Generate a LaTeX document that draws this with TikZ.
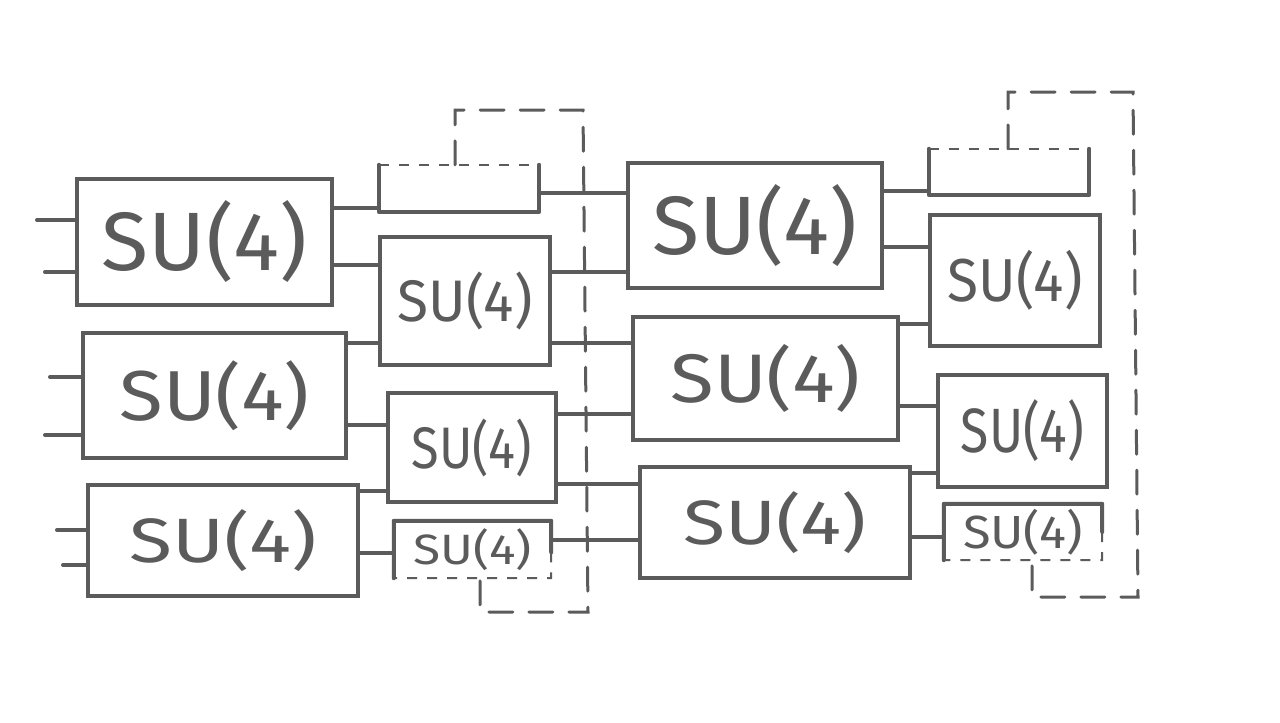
\documentclass[tikz,border=0pt]{standalone}
\usepackage{fontspec}
\usepackage{graphicx}
\usetikzlibrary{calc}
\newfontfamily\hand{Fira Sans}
\definecolor{ink}{HTML}{5B5B5B}
\newcommand\sutext[2]{\resizebox*{#1pt}{#2pt}{\hand SU(4)}}
\newcommand\wire[3]{\path (0,#3) coordinate (wtmp); \draw[wire] (#1.east |- wtmp) -- (#2.west |- wtmp);}
\newcommand\inwire[3]{\coordinate (#1) at (#3); \draw[wire] (#1) -- (#2.west |- #1);}
\begin{document}
\begin{tikzpicture}[x=1pt,y=-1pt,
  gate/.style={draw=ink, line width=4pt, rectangle, inner sep=0pt, text=ink},
  opengate/.style={rectangle, inner sep=0pt, text=ink},
  edge line/.style={draw=ink, line width=4pt, line join=round, line cap=round},
  thin dash/.style={draw=ink, line width=2pt, dash pattern=on 10pt off 10pt},
  wire/.style={draw=ink, line width=4pt, line cap=round},
  boundary/.style={draw=ink, line width=3pt, dash pattern=on 24pt off 16pt, line cap=round}]
\useasboundingbox (0,0) rectangle (1280,723);
\fill[white] (0,0) rectangle (1280,723);
% column 1
\node[gate, minimum width=255pt, minimum height=126pt] (A1) at (204.5,242) {\sutext{205}{82}};
\node[gate, minimum width=263pt, minimum height=125pt] (A2) at (214.5,395.5) {\sutext{190}{70}};
\node[gate, minimum width=270pt, minimum height=111pt] (A3) at (223,540.5) {\sutext{187}{62}};
% column 2
\node[opengate, minimum width=160pt, minimum height=47pt] (B0) at (459,188.5) {};
\node[gate, minimum width=170pt, minimum height=128pt] (B1) at (465,301) {\sutext{135}{58}};
\node[gate, minimum width=168pt, minimum height=109pt] (B2) at (472,447.5) {\sutext{120}{58}};
\node[opengate, minimum width=157pt, minimum height=57pt] (B3) at (472.5,549.5) {\sutext{118}{42}};
% column 3
\node[gate, minimum width=254pt, minimum height=125pt] (C1) at (755,225.5) {\sutext{205}{82}};
\node[gate, minimum width=265pt, minimum height=123pt] (C2) at (765.5,378.5) {\sutext{190}{68}};
\node[gate, minimum width=270pt, minimum height=111pt] (C3) at (775,522.5) {\sutext{183}{62}};
% column 4
\node[opengate, minimum width=160pt, minimum height=46pt] (D0) at (1009,172) {};
\node[gate, minimum width=170pt, minimum height=131pt] (D1) at (1015,280.5) {\sutext{135}{60}};
\node[gate, minimum width=169pt, minimum height=112pt] (D2) at (1022.5,431) {\sutext{123}{62}};
\node[opengate, minimum width=158pt, minimum height=56pt] (D3) at (1023,532) {\sutext{120}{46}};
% open (boundary) gates
\draw[edge line] (B0.north west) -- (B0.south west) -- (B0.south east) -- (B0.north east);
\draw[thin dash] (B0.north west) -- (B0.north east);
\draw[edge line] (B3.south west) -- (B3.north west) -- (B3.north east) -- ($(B3.north east)!0.55!(B3.south east)$);
\draw[thin dash] ($(B3.north east)!0.55!(B3.south east)$) -- (B3.south east) -- (B3.south west);
\draw[edge line] (D0.north west) -- (D0.south west) -- (D0.south east) -- (D0.north east);
\draw[thin dash] (D0.north west) -- (D0.north east);
\draw[edge line] (D3.south west) -- (D3.north west) -- (D3.north east) -- ($(D3.north east)!0.5!(D3.south east)$);
\draw[thin dash] ($(D3.north east)!0.5!(D3.south east)$) -- (D3.south east) -- (D3.south west);
% periodic boundary loops
\coordinate (L1) at (455,110);
\coordinate (L2) at (583,110);
\coordinate (L3) at (588,612);
\coordinate (L4) at (480,612);
\draw[boundary] (B0.north -| L1) -- (L1) -- (L2) -- (L3) -- (L4) -- (B3.south -| L4);
\coordinate (R1) at (1008,92);
\coordinate (R2) at (1133,92);
\coordinate (R3) at (1138,597);
\coordinate (R4) at (1032,597);
\draw[boundary] (D0.north -| R1) -- (R1) -- (R2) -- (R3) -- (R4) -- (D3.south -| R4);
% input wires
\inwire{i1}{A1}{37,220}
\inwire{i2}{A1}{45,272}
\inwire{i3}{A2}{50,377}
\inwire{i4}{A2}{45,435}
\inwire{i5}{A3}{57,530}
\inwire{i6}{A3}{63,565}
% col1 -> col2
\wire{A1}{B0}{208}
\wire{A1}{B1}{265}
\wire{A2}{B1}{343}
\wire{A2}{B2}{425}
\wire{A3}{B2}{491}
\wire{A3}{B3}{553}
% col2 -> col3
\wire{B0}{C1}{193}
\wire{B1}{C1}{272}
\wire{B1}{C2}{343}
\wire{B2}{C2}{414}
\wire{B2}{C3}{484}
\wire{B3}{C3}{540}
% col3 -> col4
\wire{C1}{D0}{191}
\wire{C1}{D1}{247}
\wire{C2}{D1}{324}
\wire{C2}{D2}{406}
\wire{C3}{D2}{473}
\wire{C3}{D3}{537}
\end{tikzpicture}
\end{document}
